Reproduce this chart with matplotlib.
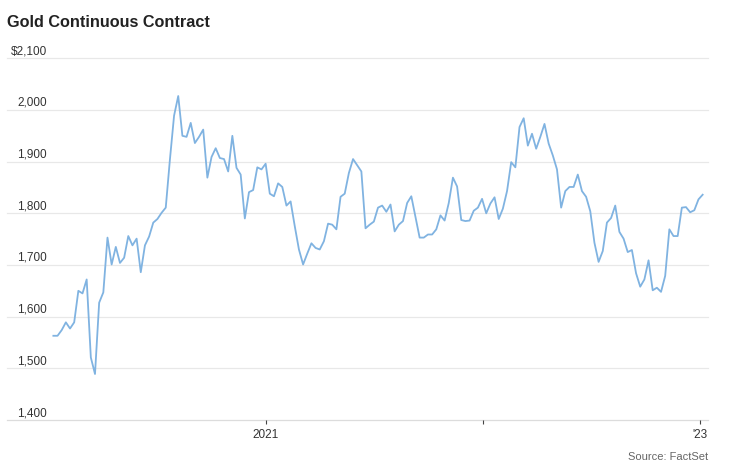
import pandas as pd
import matplotlib
matplotlib.use('Agg')
import matplotlib.pyplot as plt

# Weekly gold continuous contract closes
prices = [
    1563, 1563, 1574, 1589, 1577, 1589, 1650, 1645, 1672, 1521,
    1489, 1627, 1647, 1753, 1701, 1735, 1704, 1714, 1756, 1738,
    1751, 1686, 1738, 1755, 1782, 1789, 1801, 1811, 1904, 1989,
    2027, 1950, 1948, 1975, 1936, 1948, 1962, 1869, 1909, 1926,
    1907, 1905, 1881, 1950, 1888, 1875, 1790, 1841, 1845, 1889,
    1885, 1896, 1838, 1833, 1858,
    1851, 1815, 1823, 1775, 1730, 1701, 1722, 1742, 1733, 1730,
    1746, 1780, 1778, 1769, 1832, 1838, 1878, 1905, 1893, 1881,
    1771, 1778, 1784, 1811, 1815, 1803, 1817, 1765, 1778, 1785,
    1820, 1833, 1793, 1753, 1753, 1759, 1759, 1769, 1796, 1786,
    1820, 1869, 1852, 1787, 1785, 1786, 1805, 1811, 1828, 1800,
    1819,
    1831, 1789, 1809, 1843, 1899, 1889, 1967, 1984, 1931, 1954,
    1925, 1948, 1973, 1935, 1912, 1885, 1811, 1843, 1851, 1851,
    1875, 1843, 1832, 1804, 1743, 1706, 1727, 1782, 1791, 1815,
    1764, 1751, 1725, 1729, 1684, 1658, 1672, 1709, 1651, 1656,
    1648, 1679, 1769, 1756, 1756, 1811, 1812, 1802, 1806, 1827,
    1836,
]
dates = pd.date_range('2020-01-10', periods=len(prices), freq='7D')

y_ticks = [1400, 1500, 1600, 1700, 1800, 1900, 2000, 2100]
y_labels = ['1,400', '1,500', '1,600', '1,700', '1,800', '1,900', '2,000', '$2,100']
x_ticks = pd.to_datetime(['2021-01-01', '2022-01-01', '2023-01-01'])
x_labels = ['2021', '', "'23"]

plt.rcParams['font.family'] = ['Liberation Sans', 'DejaVu Sans']

fig = plt.figure(figsize=(7.32, 4.71), dpi=100)
ax = fig.add_axes([7 / 732, 51 / 471, 701 / 732, 361.7 / 471])

ax.plot(dates, prices, color='#80b3e1', linewidth=1.3, solid_joinstyle='round')

ax.set_xlim(pd.Timestamp('2019-10-24'), pd.Timestamp('2023-01-15'))
ax.set_ylim(1400, 2100)

# gridlines
for v in y_ticks:
    ax.axhline(v, color='#dcdcdc' if v == 1400 else '#e8e8e8', linewidth=0.9,
               zorder=0, clip_on=False)

# y labels sit above their gridline, right-aligned
for v, lbl in zip(y_ticks, y_labels):
    ax.annotate(lbl, xy=(0, v), xycoords=('axes fraction', 'data'),
                xytext=(40, 4), textcoords='offset pixels',
                ha='right', va='baseline', fontsize=8.5, color='#333333')

ax.set_yticks([])
ax.set_xticks(x_ticks)
ax.set_xticklabels(x_labels)
ax.tick_params(axis='x', length=3, width=0.8, color='#444444', pad=3.5,
               labelsize=8.5, labelcolor='#333333')
for s in ax.spines.values():
    s.set_visible(False)

fig.text(7 / 732, 1 - 26.7 / 471, 'Gold Continuous Contract', fontsize=11.7,
         fontweight='bold', color='#222222', va='baseline', ha='left')
fig.text(708 / 732, 1 - 460 / 471, 'Source: FactSet', fontsize=8,
         color='#666666', va='baseline', ha='right')

fig.savefig('out.png', dpi=100)
